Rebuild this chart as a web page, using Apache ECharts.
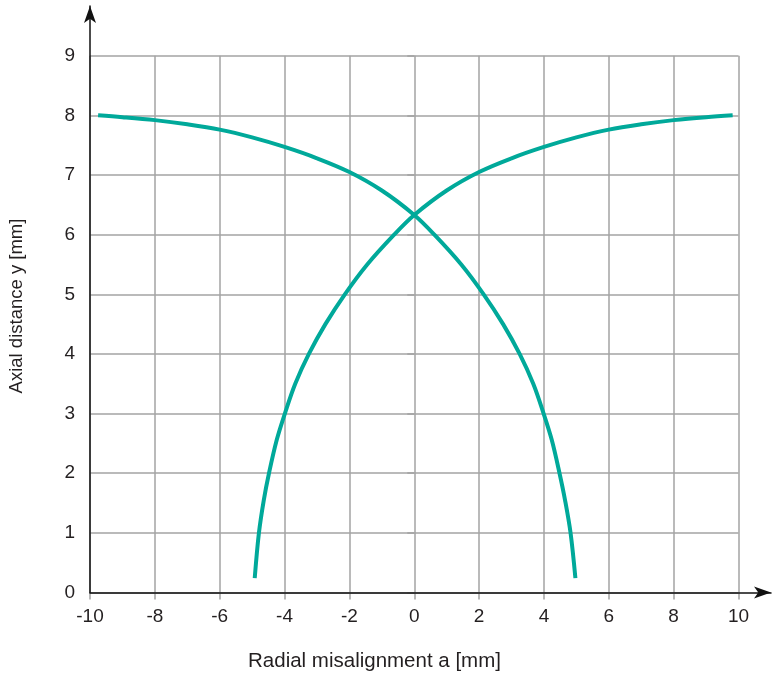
<!DOCTYPE html>
<html><head><meta charset="utf-8">
<script src="https://cdn.jsdelivr.net/npm/echarts@6/dist/echarts.min.js"></script>
<style>html,body{margin:0;padding:0;background:#fff}#c{width:773px;height:675px}</style>
</head><body><div id="c"></div>
<script>
const xTitle = 'Radial misalignment a [mm]';
const yTitle = 'Axial distance y [mm]';
const xMin = -10, xMax = 10, xStep = 2;
const yMin = 0, yMax = 9, yStep = 1;
// rising curve (starts bottom-left at a = -5)
const risingX = [-4.92, -4.79, -4.64, -4.48, -4.24, -3.99, -3.67, -3.25, -2.74, -2.14, -1.45, -0.62, 0.00, 1.00, 2.00, 3.00, 4.00, 5.00, 6.00, 7.00, 8.00, 9.00, 9.82];
const risingY = [0.24, 1.00, 1.55, 2.00, 2.56, 3.00, 3.50, 4.00, 4.50, 5.00, 5.50, 6.00, 6.33, 6.74, 7.05, 7.28, 7.47, 7.63, 7.76, 7.85, 7.92, 7.97, 8.00];
// falling curve (starts top-left at a = -10)
const fallingX = [-9.75, -9.00, -8.00, -7.00, -6.00, -5.00, -4.00, -3.00, -2.00, -1.00, 0.00, 0.62, 1.45, 2.14, 2.74, 3.25, 3.67, 3.99, 4.24, 4.48, 4.65, 4.82, 4.97];
const fallingY = [8.00, 7.97, 7.92, 7.85, 7.76, 7.63, 7.47, 7.28, 7.05, 6.74, 6.33, 6.00, 5.50, 5.00, 4.50, 4.00, 3.50, 3.00, 2.56, 2.00, 1.55, 1.00, 0.24];

const curveColor = '#00a99a';
const gridColor = '#a3a3a3';
const textColor = '#231f20';
const font = 'Liberation Sans, Arial, Helvetica, sans-serif';

const zip = (xs, ys) => xs.map((x, i) => [x, ys[i]]);
const chart = echarts.init(document.getElementById('c'), null, {renderer: 'canvas'});
chart.setOption({
  animation: false,
  backgroundColor: '#fff',
  grid: [
    {left: 90, right: 34.5, top: 55.7, bottom: 82.5},
    {left: 90, right: 2, top: 6, bottom: 82.5}
  ],
  xAxis: [
    {type: 'value', gridIndex: 0, min: xMin, max: xMax, interval: xStep,
     axisLine: {show: false},
     axisTick: {show: true, length: 7, lineStyle: {color: gridColor, width: 1.5}},
     axisLabel: {margin: 15, color: textColor, fontSize: 19, fontFamily: font},
     splitLine: {show: true, lineStyle: {color: gridColor, width: 1.5}}},
    {type: 'value', gridIndex: 1, min: 0, max: 1, z: 5,
     axisLine: {show: true, symbol: ['none', 'arrow'], symbolSize: [9, 17], lineStyle: {color: '#111', width: 1.5}},
     axisTick: {show: false}, axisLabel: {show: false}, splitLine: {show: false}}
  ],
  yAxis: [
    {type: 'value', gridIndex: 0, min: yMin, max: yMax, interval: yStep,
     axisLine: {show: false},
     axisTick: {show: true, length: 7, lineStyle: {color: gridColor, width: 1.5}},
     axisLabel: {margin: 15, color: textColor, fontSize: 19, fontFamily: font},
     splitLine: {show: true, lineStyle: {color: gridColor, width: 1.5}}},
    {type: 'value', gridIndex: 1, min: 0, max: 1, z: 5,
     axisLine: {show: true, symbol: ['none', 'arrow'], symbolSize: [9, 17], lineStyle: {color: '#111', width: 1.5}},
     axisTick: {show: false}, axisLabel: {show: false}, splitLine: {show: false}}
  ],
  graphic: [
    {type: 'text', x: 374.5, y: 661, style: {text: xTitle, fill: textColor, font: '20.5px ' + font, textAlign: 'center', textVerticalAlign: 'middle'}},
    {type: 'text', x: 16.5, y: 306, rotation: Math.PI / 2, style: {text: yTitle, fill: textColor, font: '18.5px ' + font, textAlign: 'center', textVerticalAlign: 'middle'}}
  ],
  series: [
    {type: 'line', xAxisIndex: 0, yAxisIndex: 0, data: zip(risingX, risingY), showSymbol: false, smooth: 0.35,
     lineStyle: {color: curveColor, width: 4}, z: 3},
    {type: 'line', xAxisIndex: 0, yAxisIndex: 0, data: zip(fallingX, fallingY), showSymbol: false, smooth: 0.35,
     lineStyle: {color: curveColor, width: 4}, z: 3}
  ]
});
</script></body></html>
